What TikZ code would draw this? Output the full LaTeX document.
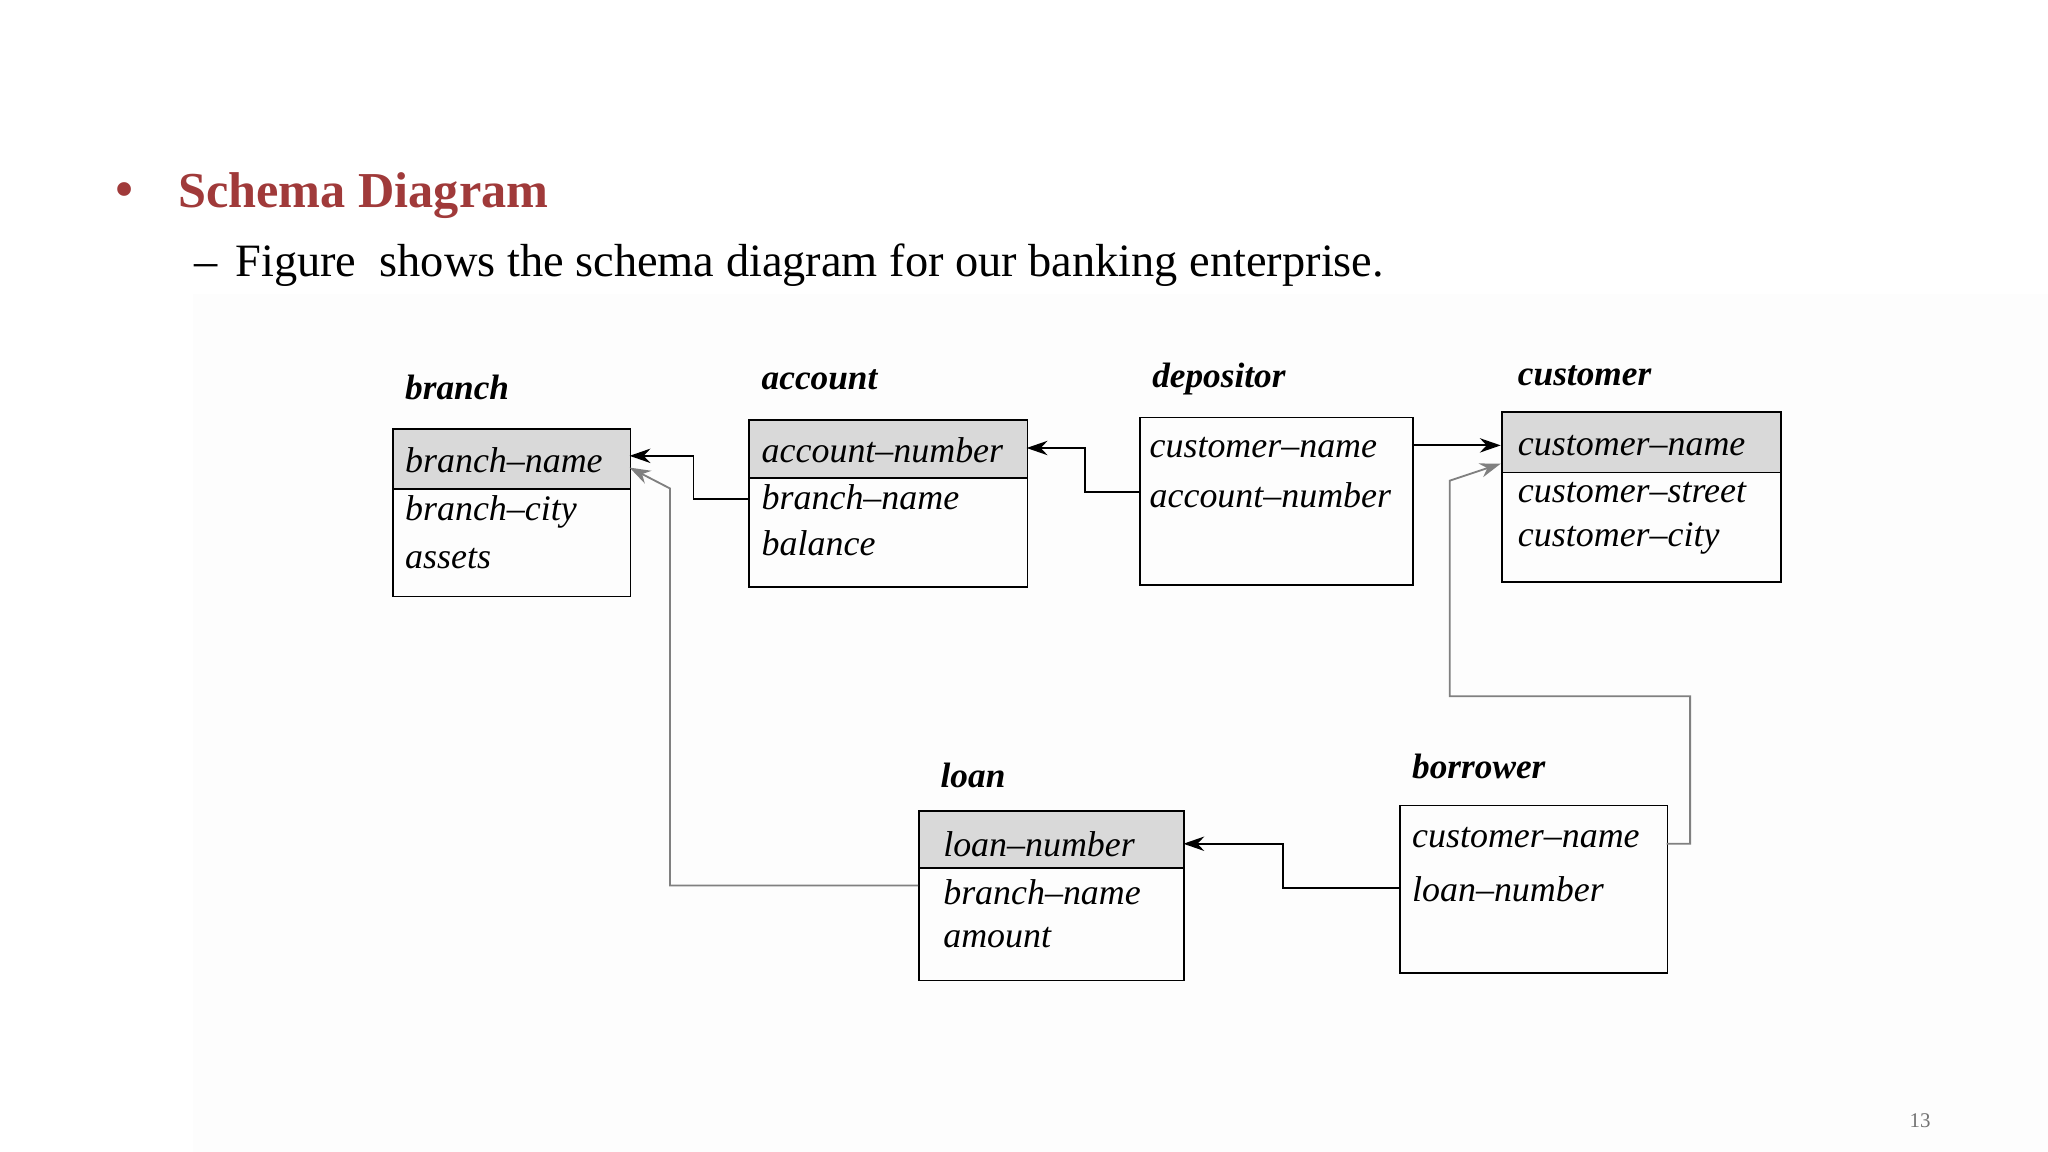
\documentclass[tikz,border=0pt]{standalone}
\usepackage{fontspec}
\setmainfont{Liberation Serif}
\usetikzlibrary{arrows.meta}
\definecolor{titred}{HTML}{A03A3A}
\definecolor{hdr}{HTML}{D9D9D9}
\begin{document}
\begin{tikzpicture}[x=1pt,y=-1pt,
  box/.style={draw,line width=1.4pt,minimum width=#1,inner sep=0pt,anchor=north west},
  hd/.style={box=#1,fill=hdr},
  fld/.style={anchor=west,font=\fontsize{27.5}{27.5}\selectfont\itshape,inner sep=0pt},
  ttl/.style={anchor=west,font=\fontsize{27}{27}\selectfont\bfseries\itshape,inner sep=0pt},
  con/.style={line width=1.4pt,-{Stealth[length=16pt,width=11pt]}},
  gcon/.style={con,draw=black!50}]
\useasboundingbox (0,0) rectangle (1568,882);
\fill[black!0.6] (148,225) rectangle (1568,882);
% header text
\node[anchor=west,text=titred,font=\fontsize{44}{44}\selectfont] (bul) at (84,150) {\textbullet};
\node[anchor=west,text=titred,font=\fontsize{38.5}{38.5}\selectfont\bfseries] (st) at (133,150) {Schema Diagram};
\node[anchor=west,font=\fontsize{35.5}{35.5}\selectfont] (sub) at (145,203) {–\hspace{14pt}Figure\ \ shows the schema diagram for our banking enterprise.};
\node[text=black!55,font=\fontsize{16}{16}\selectfont] (pg) at (1470,858) {13};
% branch
\node[box=182pt,minimum height=128pt] (branch) at (300,328) {};
\node[hd=182pt,minimum height=46pt] (branchH) at (300,328) {};
\node[ttl] at (310,297) {branch};
\node[fld] at (310,352) {branch–name};
\node[fld] at (310,392) {branch–city};
\node[fld] at (310,428) {assets};
% account
\node[box=213pt,minimum height=128pt] (account) at (573,321) {};
\node[hd=213pt,minimum height=44pt] (accountH) at (573,321) {};
\node[ttl] at (583,291) {account};
\node[fld] at (583,345) {account–number};
\node[fld] at (583,381) {branch–name};
\node[fld] at (583,416) {balance};
% depositor
\node[box=209pt,minimum height=128pt] (depositor) at (872,319) {};
\node[ttl] at (882,290) {depositor};
\node[fld] at (880,343) {customer–name};
\node[fld] at (880,379) {account–number};
% customer
\node[box=214pt,minimum height=130pt] (customer) at (1149,315) {};
\node[hd=214pt,minimum height=46pt] (customerH) at (1149,315) {};
\node[ttl] at (1162,288) {customer};
\node[fld] at (1162,341) {customer–name};
\node[fld] at (1162,377) {customer–street};
\node[fld] at (1162,412) {customer–city};
% loan
\node[box=203pt,minimum height=130pt] (loan) at (703,620) {};
\node[hd=203pt,minimum height=44pt] (loanH) at (703,620) {};
\node[ttl] at (720,594) {loan};
\node[fld] at (722,646) {loan–number};
\node[fld] at (722,683) {branch–name};
\node[fld] at (722,718) {amount};
% borrower
\node[box=205pt,minimum height=128pt] (borrower) at (1071,616) {};
\node[ttl] at (1081,587) {borrower};
\node[fld] at (1081,641) {customer–name};
\node[fld] at (1081,681) {loan–number};
% connectors
\coordinate (a1) at (573,382); \coordinate (b1) at (482,349);
\draw[con] (a1) -| (531,349) -- (b1);
\coordinate (d1) at (872,377); \coordinate (a2) at (786,343);
\draw[con] (d1) -| (831,343) -- (a2);
\draw[con] (1081,341) -- (1149,341);
\coordinate (w1) at (1276,646); \coordinate (c2) at (1149,355);
\draw[gcon] (w1) -| (1294,533) -| (1110,368) -- (c2);
\coordinate (w2) at (1071,680); \coordinate (l1) at (906,646);
\draw[con] (w2) -| (982,646) -- (l1);
\coordinate (l2) at (703,678); \coordinate (b2) at (482,358);
\draw[gcon] (l2) -| (513,374) -- (b2);
\end{tikzpicture}
\end{document}
